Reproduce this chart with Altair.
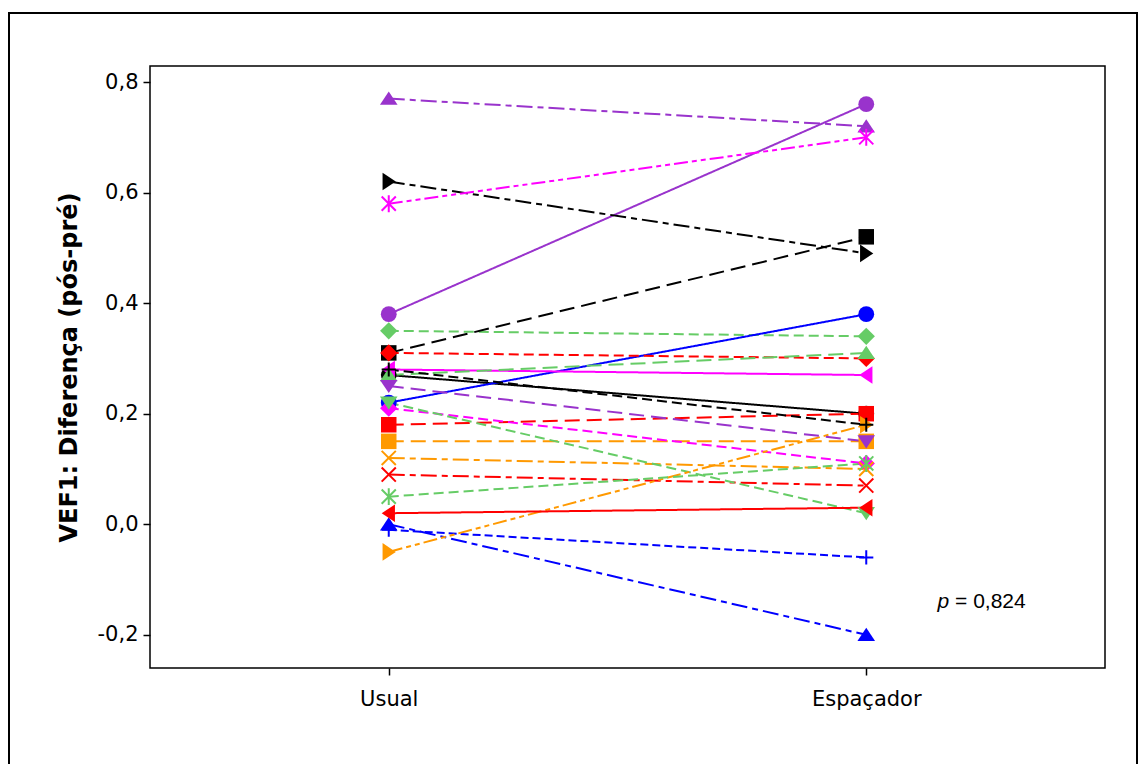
import altair as alt
import pandas as pd

# ---- data ----
ids = [f"S{i}" for i in range(1, 25)]
usual = [0.27, 0.18, 0.35, 0.22, 0.28, 0.15, 0.38, 0.31, 0.31, 0.27, 0.00, 0.21,
         0.12, 0.77, 0.62, 0.09, 0.22, -0.01, 0.58, -0.05, 0.25, 0.28, 0.02, 0.05]
espacador = [0.20, 0.20, 0.34, 0.38, 0.27, 0.15, 0.76, 0.52, 0.30, 0.31, -0.20, 0.11,
             0.10, 0.72, 0.49, 0.07, 0.02, -0.06, 0.70, 0.18, 0.15, 0.18, 0.03, 0.11]
groups = ["Usual", "Espaçador"]
y_ticks = [-0.2, 0.0, 0.2, 0.4, 0.6, 0.8]
p_label = "= 0,824"

# ---- styles ----
K, R, G, B, M, O, P = "#000000", "#FF0000", "#66CC66", "#0000FF", "#FF00FF", "#FF9900", "#9933CC"
colors = [K, R, G, B, M, O, P] * 3 + [K, R, G]

PLUS = "M-1,0L1,0M0,-1L0,1"
XS = "M-1,-1L1,1M-1,1L1,-1"
AST = "M-1,-1L1,1M-1,1L1,-1M0,-1.2L0,1.2"
DIA = "M0,-1L1,0L0,1L-1,0Z"
TU = "M0,-0.8L1,0.7L-1,0.7Z"
TD = "M0,0.8L1,-0.7L-1,-0.7Z"
TL = "M-0.8,0L0.7,-1L0.7,1Z"
TR = "M0.8,0L-0.7,-1L-0.7,1Z"
shapes = ["circle", "square", DIA, "circle", TL, "square", "circle",
          "square", DIA, TU, TU, DIA, XS, TU,
          TR, XS, TD, PLUS, AST, TR,
          TD, PLUS, TL, AST]
size_by_shape = {"circle": 250, "square": 240, DIA: 300, TU: 310, TD: 310, TL: 310,
                 TR: 310, PLUS: 200, XS: 200, AST: 200}
sizes = [size_by_shape[s] for s in shapes]
stroked_shapes = {PLUS, XS, AST}

SOLID = [1, 0]
DASH = [10, 5]
SDASH = [8, 4]
LONG = [15, 7]
DDOT = [16, 5, 6, 5]
DDOT2 = [14, 4, 5, 4, 5, 4]
dashes = [SOLID, LONG, DASH, SOLID, SOLID, LONG, SOLID, LONG, DASH, LONG, DDOT, DASH,
          DDOT, DDOT, DDOT, DDOT, DASH, SDASH, DDOT2, DDOT2, LONG, DASH, SOLID, DASH]

rows = []
for i, sid in enumerate(ids):
    kind = "stroke" if shapes[i] in stroked_shapes else "fill"
    rows.append({"id": sid, "x": 1, "y": usual[i], "kind": kind})
    rows.append({"id": sid, "x": 2, "y": espacador[i], "kind": kind})
df = pd.DataFrame(rows)

x_enc = alt.X("x:Q", scale=alt.Scale(domain=[0.5, 2.5], nice=False, zero=False),
              axis=alt.Axis(values=[1, 2], title=None,
                            labelExpr=f"datum.value == 1 ? '{groups[0]}' : '{groups[1]}'",
                            labelFont="DejaVu Sans", labelFontSize=21, labelColor="black",
                            labelPadding=13, tickSize=7, tickWidth=1.5, tickColor="black",
                            domain=False, grid=False))
y_enc = alt.Y("y:Q", scale=alt.Scale(domain=[-0.26, 0.829], nice=False, zero=False),
              axis=alt.Axis(values=y_ticks, title="VEF1: Diferença (pós-pré)",
                            labelExpr="replace(replace(format(datum.value, '.1f'), '.', ','), '\u2212', '-')",
                            labelFont="DejaVu Sans", labelFontSize=21, labelColor="black",
                            labelPadding=5, tickSize=7, tickWidth=1.5, tickColor="black",
                            titleFont="DejaVu Sans", titleFontSize=24, titleFontWeight="bold",
                            titleColor="black", titlePadding=16,
                            domain=False, grid=False))
color_enc = alt.Color("id:N", scale=alt.Scale(domain=ids, range=colors), legend=None)
shape_enc = alt.Shape("id:N", scale=alt.Scale(domain=ids, range=shapes), legend=None)
size_enc = alt.Size("id:N", scale=alt.Scale(type="ordinal", domain=ids, range=sizes), legend=None)

base = alt.Chart(df)

lines = base.mark_line(strokeWidth=2).encode(
    x=x_enc, y=y_enc, color=color_enc, detail="id:N",
    strokeDash=alt.StrokeDash("id:N", scale=alt.Scale(domain=ids, range=dashes), legend=None),
)

filled_pts = base.transform_filter("datum.kind == 'fill'").mark_point(
    filled=True, opacity=1).encode(x="x:Q", y="y:Q", color=color_enc, shape=shape_enc, size=size_enc)

stroked_pts = base.transform_filter("datum.kind == 'stroke'").mark_point(
    filled=False, opacity=1, strokeWidth=2).encode(x="x:Q", y="y:Q", color=color_enc,
                                                   shape=shape_enc, size=size_enc)

p_italic = alt.Chart(alt.Data(values=[{}])).mark_text(
    text="p", font="Liberation Sans", fontSize=21, fontStyle="italic", align="left",
    baseline="alphabetic", color="black").encode(x=alt.datum(2.149), y=alt.datum(-0.151))
p_rest = alt.Chart(alt.Data(values=[{}])).mark_text(
    text=p_label, font="Liberation Sans", fontSize=21, align="left",
    baseline="alphabetic", color="black").encode(x=alt.datum(2.186), y=alt.datum(-0.151))

frame = alt.Chart(alt.Data(values=[{}])).mark_rect(
    filled=False, stroke="black", strokeWidth=2, clip=False).encode(
    x=alt.value(-141), x2=alt.value(987), y=alt.value(-53), y2=alt.value(730))

chart = alt.layer(lines, filled_pts, stroked_pts, p_italic, p_rest, frame).properties(
    width=955, height=602,
    background="white",
    autosize=alt.AutoSizeParams(type="none"),
    padding={"left": 142, "top": 58, "right": 33, "bottom": 96},
).configure_view(stroke="black", strokeWidth=1.5)

chart.save("out.html", embed_options={"renderer": "svg", "actions": False})
